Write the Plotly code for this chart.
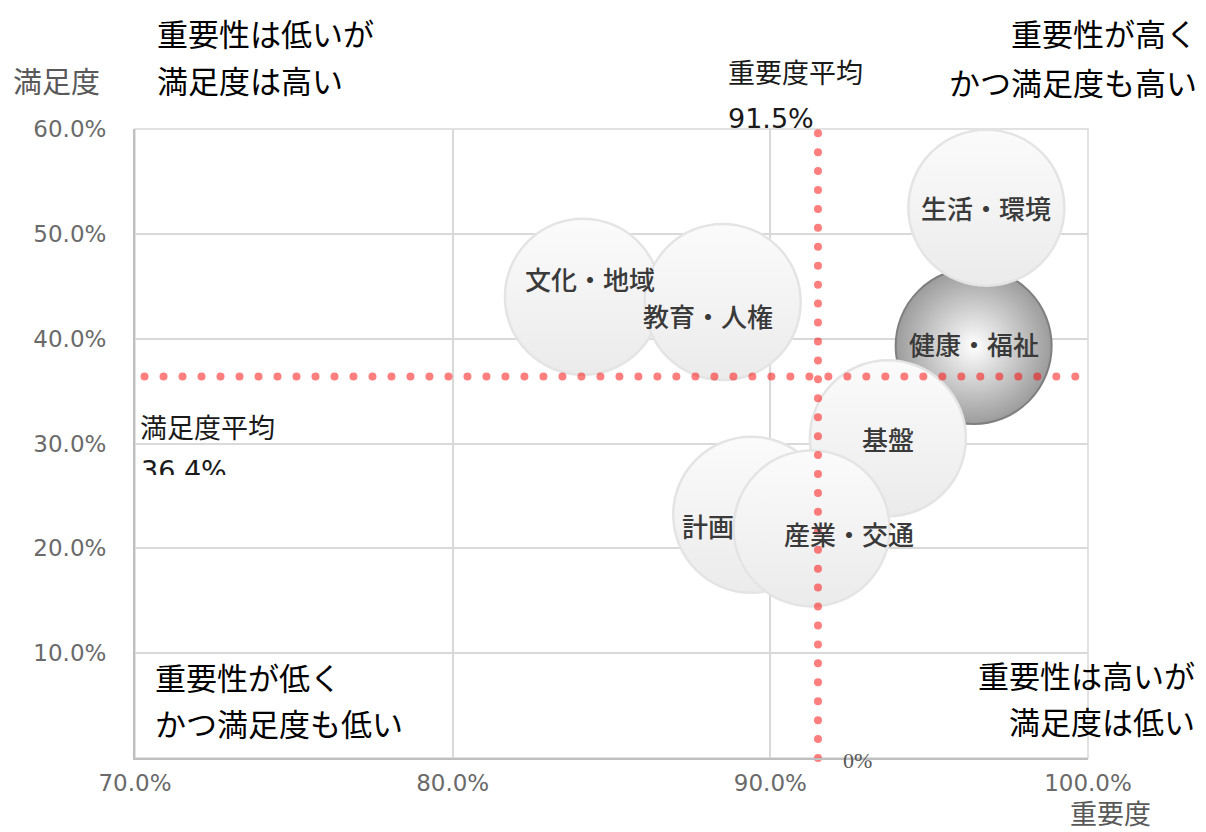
import numpy as np
import plotly.graph_objects as go

# ---- data ----
categories = ["文化・地域", "教育・人権", "健康・福祉", "生活・環境", "計画", "基盤", "産業・交通"]
importance = [84.1, 88.5, 96.4, 96.8, 89.4, 93.7, 91.3]     # 重要度 (%)
satisfaction = [44.0, 43.5, 39.3, 52.5, 23.2, 30.5, 21.9]   # 満足度 (%)
bubble_size = [1, 1, 1, 1, 1, 1, 1]
importance_avg = 91.5
satisfaction_avg = 36.4
x_ticks = [70, 80, 90, 100]
y_ticks = [10, 20, 30, 40, 50, 60]
x_tick_labels = [f"{v:.1f}%" for v in x_ticks]
y_tick_labels = [f"{v:.1f}%" for v in y_ticks]

# ---- layout constants ----
W, H = 1206, 832
L, R, T, B = 135, 118, 129, 74
PW, PH = W - L - R, H - T - B
JP = "Noto Sans CJK JP"
NUM = "DejaVu Sans"

def px(xp):
    return (xp - L) / PW

def py(yp):
    return (H - B - yp) / PH

fig = go.Figure()

highlight = "健康・福祉"
label_shift = {"文化・地域": (7, 18), "教育・人権": (-15, -14), "計画": (-43, -11),
               "産業・交通": (37, -5), "健康・福祉": (0, 3)}

for name, xv, yv, s in zip(categories, importance, satisfaction, bubble_size):
    if name == highlight:
        marker = dict(size=156 * s, color="#9c9c9c",
                      gradient=dict(type="radial", color="#ffffff"),
                      line=dict(color="#7f7f7f", width=2))
    else:
        marker = dict(size=156 * s, color="#fbfbfb",
                      gradient=dict(type="vertical", color="#ebebeb"),
                      line=dict(color="#e4e4e4", width=2.5))
    fig.add_trace(go.Scatter(x=[xv], y=[yv], mode="markers", marker=marker,
                             name=name, showlegend=False, cliponaxis=False))

# average lines as round dots
hx = np.linspace(70.3, 99.6, 50)
fig.add_trace(go.Scatter(x=hx, y=[satisfaction_avg] * len(hx), mode="markers",
                         marker=dict(size=8, color="rgba(255,0,0,0.5)"),
                         showlegend=False, hoverinfo="skip"))
vy = np.linspace(0, 59.6, 34)
fig.add_trace(go.Scatter(x=[importance_avg] * len(vy), y=vy, mode="markers",
                         marker=dict(size=8, color="rgba(255,0,0,0.5)"),
                         showlegend=False, hoverinfo="skip", cliponaxis=False))

ann = []
for name, xv, yv in zip(categories, importance, satisfaction):
    dx, dy = label_shift.get(name, (0, 0))
    ann.append(dict(x=xv, y=yv, xref="x", yref="y", text=name, showarrow=False,
                    xshift=dx, yshift=dy,
                    font=dict(family=JP, size=26, color="#3a3a3a", weight=500)))

def label(text, x, y, xanchor, size, color="#000000", family=JP, **kw):
    d = dict(x=px(x), y=py(y), xref="paper", yref="paper", text=text, showarrow=False,
             xanchor=xanchor, yanchor="middle", font=dict(family=family, size=size, color=color))
    d.update(kw)
    return d

# quadrant labels
ann += [
    label("重要性は低いが", 155, 32, "left", 31),
    label("満足度は高い", 155, 79, "left", 31),
    label("重要性が高く", 1199, 33, "right", 31),
    label("かつ満足度も高い", 1199, 81, "right", 31),
    label("重要性が低く", 153, 676, "left", 31),
    label("かつ満足度も低い", 153, 722, "left", 31),
    label("重要性は高いが", 1197, 674, "right", 31),
    label("満足度は低い", 1197, 720, "right", 31),
]
# axis titles
ann += [
    label("満足度", 56, 80, "center", 29, color="#595959"),
    label("重要度", 1110, 812, "center", 27, color="#595959"),
]
# average labels
ann += [
    label("重要度平均", 726, 72, "left", 27, color="#1a1a1a"),
    label("91.5%", 726, 118, "left", 27, color="#1a1a1a", family=NUM),
    label("満足度平均", 138, 426, "left", 27, color="#1a1a1a"),
    dict(x=px(139), y=py(453), xref="paper", yref="paper", text="36.4%", showarrow=False,
         xanchor="left", yanchor="top", height=20, valign="top",
         font=dict(family=NUM, size=27, color="#1a1a1a")),
    dict(x=importance_avg, y=0, xref="x", yref="y", text="0%", showarrow=False,
         xshift=40, yshift=-2, font=dict(family="Liberation Serif", size=22, color="#595959")),
]

fig.update_layout(
    width=W, height=H,
    margin=dict(l=L, r=R, t=T, b=B, pad=0),
    paper_bgcolor="white", plot_bgcolor="white",
    annotations=ann,
    xaxis=dict(range=[70, 100], tickvals=x_ticks, ticktext=x_tick_labels,
               showgrid=True, gridcolor="#d9d9d9", gridwidth=1.5, zeroline=False,
               showline=True, linecolor="#bfbfbf", linewidth=2, ticks="",
               ticklabelstandoff=3,
               tickfont=dict(family=NUM, size=23, color="#6a6a6a")),
    yaxis=dict(range=[0, 60], tickvals=y_ticks, ticktext=y_tick_labels,
               showgrid=True, gridcolor="#d9d9d9", gridwidth=1.5, zeroline=False,
               showline=True, linecolor="#bfbfbf", linewidth=2, ticks="",
               ticklabelstandoff=22,
               tickfont=dict(family=NUM, size=23, color="#6a6a6a")),
    shapes=[dict(type="rect", xref="paper", yref="paper", x0=0, x1=1, y0=0, y1=1,
                 line=dict(color="#d9d9d9", width=1.5), layer="below")],
)

fig.write_html("out.html")
